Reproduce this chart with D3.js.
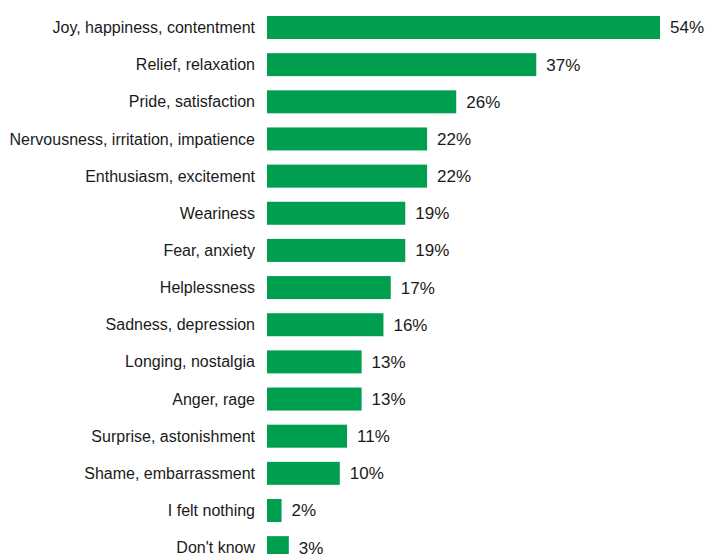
<!DOCTYPE html>
<html><head><meta charset="utf-8">
<script src="https://cdn.jsdelivr.net/npm/d3@7"></script>
<style>html,body{margin:0;padding:0;background:#fff;}</style>
</head><body>
<svg id="chart" width="708" height="554"></svg>
<script>
const categories = ["Joy, happiness, contentment","Relief, relaxation","Pride, satisfaction","Nervousness, irritation, impatience","Enthusiasm, excitement","Weariness","Fear, anxiety","Helplessness","Sadness, depression","Longing, nostalgia","Anger, rage","Surprise, astonishment","Shame, embarrassment","I felt nothing","Don't know"];
const values = [54,37,26,22,22,19,19,17,16,13,13,11,10,2,3];

const svg = d3.select("#chart");
const x = d3.scaleLinear().domain([0,54]).range([267,660]);
const y = d3.scaleBand().domain(categories).range([1.85,573.3]).padding(0.381);
const data = categories.map((c,i)=>({c, v: values[i]}));

svg.selectAll("rect.bar").data(data).join("rect").attr("class","bar")
  .attr("x", x(0)).attr("y", d=>y(d.c)).attr("width", d=>x(d.v)-x(0)).attr("height", y.bandwidth())
  .attr("fill","#009E4F");

svg.selectAll("text.cat").data(data).join("text").attr("class","cat")
  .attr("x",255).attr("y",d=>y(d.c)+y.bandwidth()/2).attr("dy","0.35em")
  .attr("text-anchor","end").attr("font-family","Liberation Sans, Arial, sans-serif")
  .attr("font-size",16).attr("fill","#1a1a1a").text(d=>d.c);

svg.selectAll("text.val").data(data).join("text").attr("class","val")
  .attr("x",d=>x(d.v)+10).attr("y",d=>y(d.c)+y.bandwidth()/2).attr("dy","0.35em")
  .attr("font-family","Liberation Sans, Arial, sans-serif")
  .attr("font-size",17).attr("fill","#1a1a1a").text(d=>d.v+"%");
</script>
</body></html>
